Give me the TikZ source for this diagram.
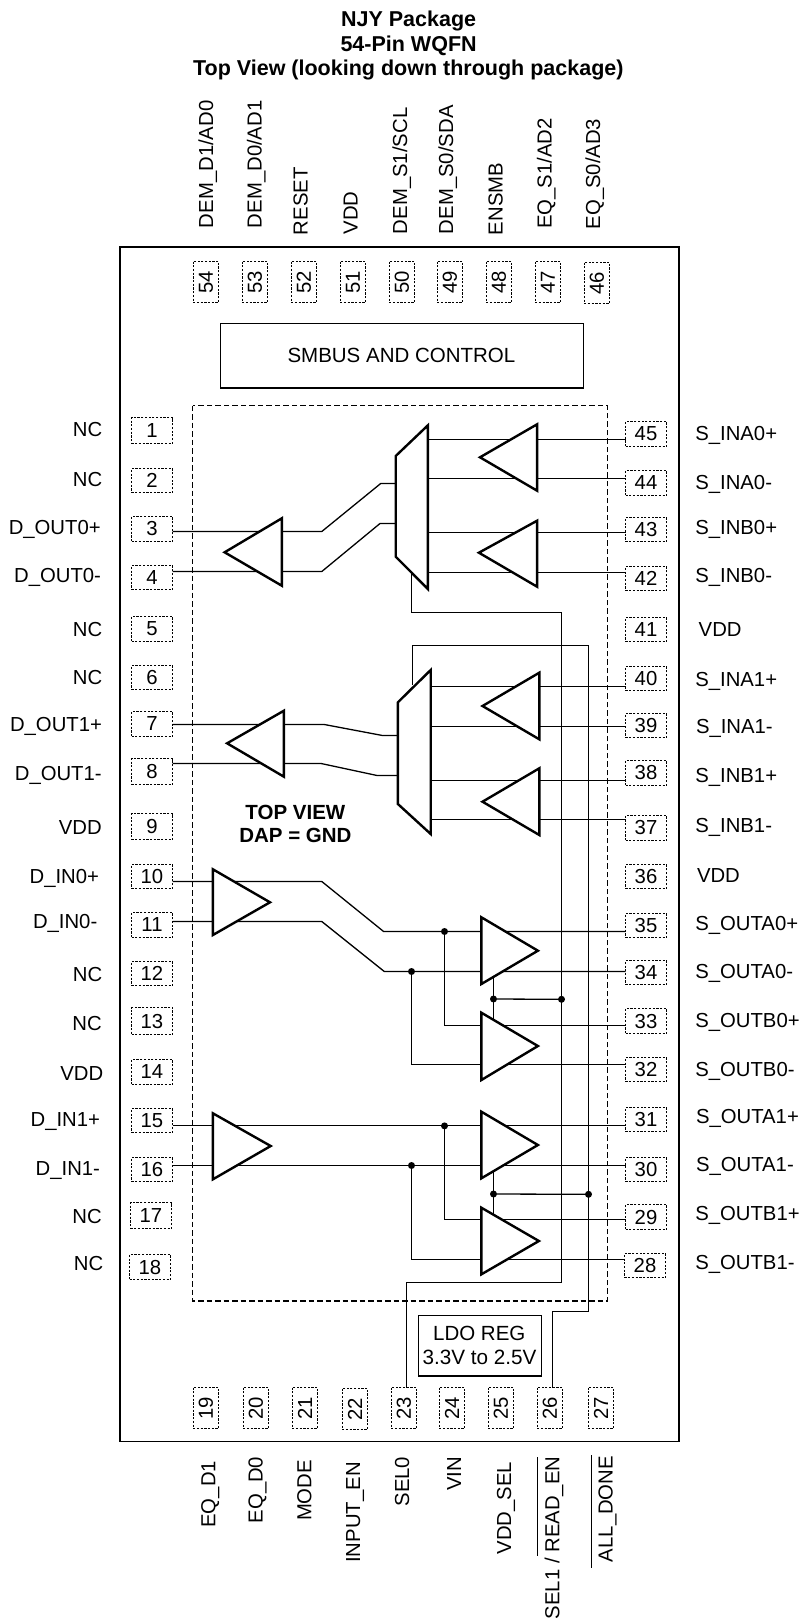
\documentclass[tikz,border=0pt]{standalone}
\usepackage{fontspec}
\setmainfont{Liberation Sans}
\newcommand{\txtsize}{\fontsize{20.3}{24}\selectfont}
\tikzset{
  base text/.style={inner sep=0pt,outer sep=0pt,font=\txtsize,text=black},
  pinbox/.style={draw=black,line width=1.05pt,dash pattern=on 2.2pt off 1.5pt,inner sep=0pt,outer sep=0pt,font=\txtsize},
  sidepin/.style={pinbox,minimum width=41pt},
  vertpin/.style={pinbox,rotate=90,minimum width=41pt,minimum height=25pt},
  leftlabel/.style={base text,anchor=base east},
  rightlabel/.style={base text,anchor=base west},
  toplabel/.style={base text,rotate=90,anchor=base west},
  botlabel/.style={base text,rotate=90,anchor=base east},
  wire/.style={draw=black,line width=1.3pt,line join=miter},
  heavy/.style={draw=black,fill=white,line width=2.4pt,line join=miter},
  block/.style={draw=black,line width=1.2pt,inner sep=0pt,outer sep=0pt},
  titletext/.style={inner sep=0pt,anchor=base,font=\fontsize{21.5}{25}\selectfont\bfseries},
  boldtext/.style={inner sep=0pt,anchor=base,font=\fontsize{20.5}{24}\selectfont\bfseries},
  dot/.style={circle,fill=black,draw=none,minimum size=7pt,inner sep=0pt,outer sep=0pt},
}
\begin{document}
\begin{tikzpicture}[x=1pt,y=-1pt]
\useasboundingbox (0,0) rectangle (801,1619);
% title
\node[titletext] (t1) at (408.6,26.7) {NJY Package};
\node[titletext] (t2) at (408.6,51.7) {54-Pin WQFN};
\node[titletext] (t3) at (408.3,75) {Top View (looking down through package)};
% package
\draw[draw=black,line width=1.5pt] (120,247) rectangle (679,1441.7);
\draw[draw=black,line width=1.1pt,dash pattern=on 5.5pt off 3pt] (192.5,405.7) rectangle (607.5,1301);
\node[block,minimum width=362.5pt,minimum height=64.7pt] (smbus) at (401.95,355.65) {};
\node[base text,anchor=base,font=\fontsize{20.5}{24}\selectfont] (smbustext) at (401.4,362) {SMBUS AND CONTROL};
\node[block,minimum width=123.2pt,minimum height=60.7pt] (ldo) at (479.8,1345.65) {};
\node[base text,anchor=base,font=\fontsize{20.5}{24}\selectfont] (ldoa) at (479.3,1340) {LDO REG};
\node[base text,anchor=base,font=\fontsize{20.7}{24}\selectfont] (ldob) at (479.5,1364) {3.3V to 2.5V};
\node[boldtext] (tv1) at (295.4,819) {TOP VIEW};
\node[boldtext] (tv2) at (295.4,842.7) {DAP = GND};
% left pins
\foreach \n/\x/\ya/\yb in {1/152/416.7/443.3,2/152/467.7/492.3,3/152/516/540.7,4/152/564.7/589.3,5/152/616/640.7,6/152/664.7/689.3,7/152/710.7/735.7,8/152/757.7/784.3,9/152/812.7/839.3,10/152/863.7/888.3,11/152/912.3/937,12/152/960.7/985.3,13/152/1007.3/1034,14/152/1059.3/1084,15/152/1107.7/1132.3,16/152/1156.7/1181.3,17/151/1201.7/1228.3,18/150/1253.7/1278.7}
  \node[sidepin,minimum height={(round(\yb)-round(\ya))*1pt}] (p\n) at (\x,{(round(\ya)+round(\yb)+1)/2}) {\n};
% right pins
\foreach \n/\x/\ya/\yb in {45/646/421.3/446,44/646/470/494.7,43/646/516.7/541.3,42/646/565.7/590.3,41/646/616.7/641.3,40/646/665.7/690.3,39/646/712.7/737.3,38/646/760/784.7,37/646/815/840,36/646/863.7/888.3,35/646/912.7/937.3,34/646/959.7/984.3,33/646/1008.3/1033,32/646/1056.7/1081.3,31/646/1106.7/1131.3,30/646/1156.7/1181.3,29/646/1204.3/1229,28/645/1252.7/1277.3}
  \node[sidepin,minimum height={(round(\yb)-round(\ya))*1pt}] (p\n) at (\x,{(round(\ya)+round(\yb)+1)/2}) {\n};
% top pins
\foreach \n/\x/\y in {54/206/282,53/255/282,52/304/282,51/353/282,50/402/282,49/450/282,48/499/282,47/548/282,46/597/283}
  \node[vertpin] (p\n) at (\x,\y) {\n};
% bottom pins
\foreach \n/\x/\y in {19/206/1408,20/256/1408,21/305/1408,22/355/1409,23/404/1408,24/452/1408,25/501/1408,26/550/1408,27/601/1408}
  \node[vertpin] (p\n) at (\x,\y) {\n};
% left labels
\foreach \i/\x/\y/\t in {1/102.3/436.7/NC,2/102.3/486/NC,3/100.7/534/D\_OUT0+,4/101/582.7/D\_OUT0-,5/102.3/636.7/NC,6/102.3/684.3/NC,7/102/731.7/D\_OUT1+,8/101.7/780/D\_OUT1-,9/101.7/834.3/VDD,10/99/883.3/D\_IN0+,11/97.3/928.3/D\_IN0-,12/102.3/981/NC,13/101.7/1030.7/NC,14/103.3/1080.7/VDD,15/100/1126.7/D\_IN1+,16/100/1175.7/D\_IN1-,17/101.7/1223.3/NC,18/103.3/1270.7/NC}
  \node[leftlabel] (ll\i) at (\x,\y) {\t};
% right labels
\foreach \i/\x/\y/\t in {45/695.3/440.7/S\_INA0+,44/695.3/489.3/S\_INA0-,43/695.3/534.3/S\_INB0+,42/695.3/582.7/S\_INB0-,41/698.7/636.7/VDD,40/695.3/686/S\_INA1+,39/696/733.3/S\_INA1-,38/695.3/782.7/S\_INB1+,37/695.3/832.7/S\_INB1-,36/697/882.7/VDD,35/695.3/930/S\_OUTA0+,34/695.3/978.3/S\_OUTA0-,33/695.3/1027.7/S\_OUTB0+,32/695.3/1076/S\_OUTB0-,31/696/1123.3/S\_OUTA1+,30/696/1171.7/S\_OUTA1-,29/695.3/1220.7/S\_OUTB1+,28/695.3/1269.3/S\_OUTB1-}
  \node[rightlabel] (rl\i) at (\x,\y) {\t};
% top labels
\foreach \i/\x/\y/\t in {54/213/228/{DEM\_D1/AD0},53/261.5/228/{DEM\_D0/AD1},52/307.5/235/RESET,51/357.5/234.3/VDD,50/407/234/{DEM\_S1/SCL},49/453/234/{DEM\_S0/SDA},48/502.5/235/ENSMB,47/551.5/228.7/{EQ\_S1/AD2},46/600/229.3/{EQ\_S0/AD3}}
  \node[toplabel] (tl\i) at (\x,\y) {\t};
% bottom labels
\foreach \i/\x/\y/\t in {19/215.3/1461/EQ\_D1,20/262.7/1456.7/EQ\_D0,21/311.3/1460/MODE,22/360/1462.3/INPUT\_EN,23/409/1456.7/SEL0,24/461/1456.7/VIN,25/511/1461.7/VDD\_SEL,26/559.3/1456.7/{SEL1 / READ\_EN},27/612.7/1456/ALL\_DONE}
  \node[botlabel] (bl\i) at (\x,\y) {\t};
\coordinate (barAa) at (537.7,1457.3);
\coordinate (barAb) at (537.7,1555.7);
\coordinate (barBa) at (591.7,1455);
\coordinate (barBb) at (591.7,1567.7);
\draw[line width=1.1pt] (barAa) -- (barAb);
\draw[line width=1.1pt] (barBa) -- (barBb);
% dots
\node[dot] (d1) at (444.5,931.5) {};
\node[dot] (d2) at (411.5,971.5) {};
\node[dot] (d3) at (493.5,999) {};
\node[dot] (d4) at (561.5,999.3) {};
\node[dot] (d5) at (444.5,1125.9) {};
\node[dot] (d6) at (411.5,1165.5) {};
\node[dot] (d7) at (493.5,1194) {};
\node[dot] (d8) at (588.5,1194.3) {};
% wires, upper mux
\draw[wire] (p3.east |- 0,531.5) -- (321.8,531.5) -- (380.7,483.5) -- (395.7,483.5);
\draw[wire] (p4.east |- 0,571.5) -- (321.8,571.5) -- (380,523.5) -- (395.7,523.5);
\draw[wire] (427.9,439.5) -- (p45.west |- 0,439.5);
\draw[wire] (427.9,478.5) -- (p44.west |- 0,478.5);
\draw[wire] (427.9,532.5) -- (p43.west |- 0,532.5);
\draw[wire] (427.9,572.5) -- (p42.west |- 0,572.5);
% wires, lower mux
\draw[wire] (p7.east |- 0,724.5) -- (324.3,724.5) -- (382.5,735.5) -- (397.9,735.5);
\draw[wire] (p8.east |- 0,763.5) -- (321.1,763.5) -- (377.1,775.5) -- (397.9,775.5);
\draw[wire] (430.7,686.5) -- (p40.west |- 0,686.5);
\draw[wire] (430.7,726.5) -- (p39.west |- 0,726.5);
\draw[wire] (430.7,780.5) -- (p38.west |- 0,780.5);
\draw[wire] (430.7,819.5) -- (p37.west |- 0,819.5);
% select wires
\draw[wire] (411.5,572) -- (411.5,612.5) -- (561.5,612.5) -- (561.5,1282.5) -- (406.5,1282.5) -- (406.5,0 |- p23.east);
\draw[wire] (412.5,685) -- (412.5,645.5) -- (588.5,645.5) -- (588.5,1311.5) -- (552.5,1311.5) -- (552.5,0 |- p26.east);
% wires, inputs
\draw[wire] (p10.east |- 0,881.5) -- (321.8,881.5) -- (383.6,931.5) -- (p35.west |- 0,931.5);
\draw[wire] (p11.east |- 0,921.5) -- (321.8,921.5) -- (384.3,971.5) -- (p34.west |- 0,971.5);
\draw[wire] (d1) -- (444.5,1025.5) -- (p33.west |- 0,1025.5);
\draw[wire] (d2) -- (411.5,1064.5) -- (p32.west |- 0,1064.5);
\draw[wire] (p15.east |- 0,1125.5) -- (p31.west |- 0,1125.5);
\draw[wire] (p16.east |- 0,1165.5) -- (p30.west |- 0,1165.5);
\draw[wire] (d5) -- (444.5,1219.5) -- (p29.west |- 0,1219.5);
\draw[wire] (d6) -- (411.5,1259.5) -- (p28.west |- 0,1259.5);
% enables
\draw[wire] (493.5,970) -- (493.5,1030);
\draw[wire] (d3) -- (d4);
\draw[wire] (493.5,1165) -- (493.5,1225);
\draw[wire] (d7) -- (d8);
% muxes
\draw[heavy] (395.7,456) -- (427.9,425.3) -- (427.9,589) -- (395.7,556.7) -- cycle;
\draw[heavy] (397.9,702.3) -- (430.7,670) -- (430.7,834) -- (397.9,804) -- cycle;
% buffers pointing left
\draw[heavy] (480,457.3) -- (537.1,424.3) -- (537.1,490.7) -- cycle;
\draw[heavy] (478.9,552.7) -- (537.1,520.7) -- (537.1,586.7) -- cycle;
\draw[heavy] (224.6,552.3) -- (281.8,518.3) -- (281.8,585.7) -- cycle;
\draw[heavy] (482.5,706) -- (539.3,672.7) -- (539.3,739.3) -- cycle;
\draw[heavy] (482.5,801.7) -- (539.3,768.3) -- (539.3,835) -- cycle;
\draw[heavy] (227.1,743.3) -- (283.9,710.7) -- (283.9,776.7) -- cycle;
% buffers pointing right
\draw[heavy] (270,902.3) -- (212.9,869.3) -- (212.9,935) -- cycle;
\draw[heavy] (537.9,950.7) -- (481.4,917.3) -- (481.4,984) -- cycle;
\draw[heavy] (537.9,1046) -- (481.4,1012.7) -- (481.4,1080) -- cycle;
\draw[heavy] (270.7,1146) -- (212.9,1113.3) -- (212.9,1179.3) -- cycle;
\draw[heavy] (537.9,1145) -- (481.4,1111.7) -- (481.4,1178.3) -- cycle;
\draw[heavy] (538.9,1241) -- (481.4,1207.7) -- (481.4,1274.3) -- cycle;
\end{tikzpicture}
\end{document}
